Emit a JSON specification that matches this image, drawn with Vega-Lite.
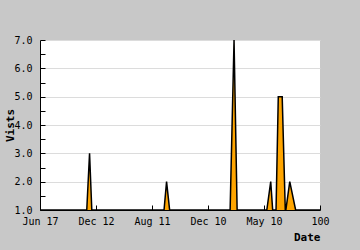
{
  "$schema": "https://vega.github.io/schema/vega-lite/v6.json",
  "width": 280,
  "height": 170,
  "autosize": "none",
  "padding": {"left": 40, "top": 40, "right": 40, "bottom": 40},
  "background": "#c8c8c8",
  "view": {"fill": "white", "stroke": null},
  "data": {"values": [
    {"t": 0, "v": 1}, {"t": 16.7, "v": 1}, {"t": 17.7, "v": 3}, {"t": 18.5, "v": 1},
    {"t": 44.3, "v": 1}, {"t": 45.2, "v": 2}, {"t": 46.3, "v": 1},
    {"t": 67.9, "v": 1}, {"t": 69.3, "v": 7}, {"t": 70.4, "v": 1},
    {"t": 81.0, "v": 1}, {"t": 82.4, "v": 2}, {"t": 83.1, "v": 1},
    {"t": 84.3, "v": 1}, {"t": 85.1, "v": 5}, {"t": 86.5, "v": 5}, {"t": 87.6, "v": 1},
    {"t": 87.8, "v": 1}, {"t": 89.2, "v": 2}, {"t": 91.3, "v": 1},
    {"t": 100, "v": 1}
  ]},
  "mark": {"type": "area", "color": "#ffa500", "opacity": 1, "clip": true, "line": {"color": "black", "strokeWidth": 1.5, "clip": true}},
  "encoding": {
    "x": {"field": "t", "type": "quantitative", "scale": {"domain": [0, 100], "nice": false},
      "axis": {"values": [0, 20, 40, 60, 80, 100],
        "labelExpr": "datum.value == 0 ? 'Jun 17' : datum.value == 20 ? 'Dec 12' : datum.value == 40 ? 'Aug 11' : datum.value == 60 ? 'Dec 10' : datum.value == 80 ? 'May 10' : '100'",
        "grid": false, "domainColor": "black", "tickColor": "black", "tickSize": -5,
        "labelFont": "DejaVu Sans Mono", "labelFontSize": 10, "labelColor": "black", "labelPadding": 11,
        "labelFlush": false, "labelOverlap": false,
        "title": "Date", "titleFont": "DejaVu Sans Mono", "titleFontSize": 11, "titleFontWeight": "bold", "titleColor": "black",
        "titleX": 280, "titleY": 30, "titleAlign": "right", "titleBaseline": "alphabetic"}},
    "y": {"field": "v", "type": "quantitative", "scale": {"domain": [1, 7], "nice": false, "zero": false},
      "axis": {"values": [1, 1.5, 2, 2.5, 3, 3.5, 4, 4.5, 5, 5.5, 6, 6.5, 7],
        "labelExpr": "datum.value % 1 == 0 ? format(datum.value, '.1f') : ''",
        "grid": true,
        "gridColor": {"condition": {"test": "datum.value % 1 != 0", "value": "transparent"}, "value": "#dcdcdc"},
        "domainColor": "black", "tickColor": "black", "tickSize": -5,
        "labelFont": "DejaVu Sans Mono", "labelFontSize": 10, "labelColor": "black", "labelPadding": 13,
        "labelFlush": false, "labelOverlap": false,
        "title": "Vists", "titleFont": "DejaVu Sans Mono", "titleFontSize": 11, "titleFontWeight": "bold", "titleColor": "black",
        "titleX": -27, "titleY": 85, "titleAngle": -90, "titleAlign": "center", "titleBaseline": "alphabetic"}},
    "y2": {"datum": 1}
  }
}
